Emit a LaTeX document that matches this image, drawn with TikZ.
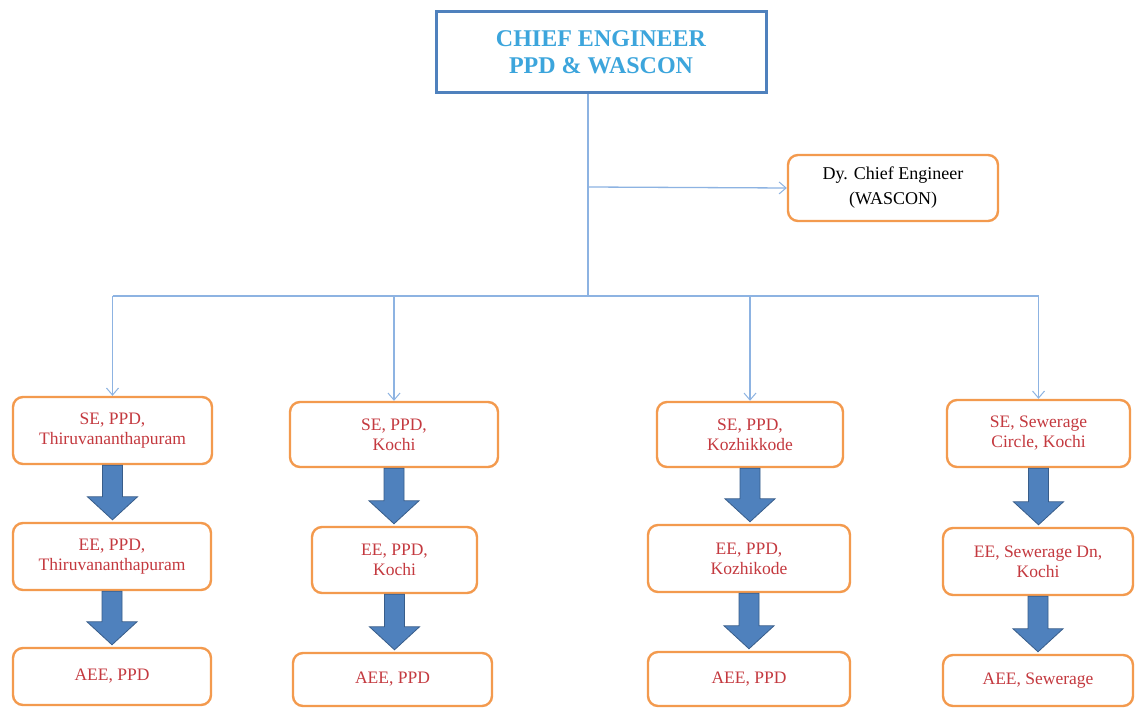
\documentclass[tikz,border=0pt]{standalone}
\usepackage{fontspec}
\setmainfont{Liberation Serif}
\usetikzlibrary{arrows.meta,calc}
\definecolor{obord}{HTML}{F39A4E}
\definecolor{otext}{HTML}{C4393F}
\definecolor{ttext}{HTML}{3CA5DC}
\definecolor{tbord}{HTML}{4F81BD}
\definecolor{conncol}{HTML}{8DB3E2}
\definecolor{afill}{HTML}{4F81BD}
\definecolor{aedge}{HTML}{385D8A}
\newcommand\blkarrow[2]{%
  \path[draw=aedge, fill=afill, line width=0.8pt] let \p1=(#1.south), \p2=(#2.north) in
    (\x1-10pt,\y1) -- (\x1-10pt,\y2+25pt) -- (\x1-25pt,\y2+25pt) -- (\x1,\y2+2pt)
    -- (\x1+25pt,\y2+25pt) -- (\x1+10pt,\y2+25pt) -- (\x1+10pt,\y1) -- cycle;}
\begin{document}
\begin{tikzpicture}[x=1pt,y=-1pt,
  obox/.style={draw=obord, line width=2.4pt, rounded corners=10pt, fill=white,
    inner sep=0pt, align=center, text=otext,
    font=\fontsize{17.5}{20}\selectfont},
  conn/.style={draw=conncol, line width=1.3pt},
  tip/.style={-{Straight Barb[length=7pt,width=12pt,line width=1pt]}}]
\useasboundingbox (0,0) rectangle (1135,708);
\fill[white] (0,0) rectangle (1135,708);

% top box
\node[draw=tbord, line width=3pt, inner sep=0pt, minimum width=330pt, minimum height=81pt,
  align=center, text=ttext, font=\bfseries\fontsize{24}{27}\selectfont]
  (ce) at (601,52.5) {CHIEF ENGINEER\\PPD \& WASCON};

% deputy
\node[obox, text=black, font=\fontsize{18}{25}\selectfont, minimum width=210pt, minimum height=66pt]
  (dy) at (893,188) {Dy. Chief Engineer\\(WASCON)};

% column 1
\node[obox, minimum width=199pt, minimum height=67pt] (se1) at (112.5,430.5) {SE, PPD,\\Thiruvananthapuram};
\node[obox, minimum width=198pt, minimum height=67pt] (ee1) at (112,556.5) {EE, PPD,\\Thiruvananthapuram};
\node[obox, minimum width=198pt, minimum height=57pt] (ae1) at (112,676.5) {AEE, PPD};
% column 2
\node[obox, minimum width=208pt, minimum height=65pt] (se2) at (394,434.5) {SE, PPD,\\Kochi};
\node[obox, minimum width=165pt, minimum height=66pt] (ee2) at (394.5,560) {EE, PPD,\\Kochi};
\node[obox, minimum width=199pt, minimum height=53pt] (ae2) at (392.5,679.5) {AEE, PPD};
% column 3
\node[obox, minimum width=186pt, minimum height=65pt] (se3) at (750,434.5) {SE, PPD,\\Kozhikkode};
\node[obox, minimum width=202pt, minimum height=67pt] (ee3) at (749,558.5) {EE, PPD,\\Kozhikode};
\node[obox, minimum width=202pt, minimum height=54pt] (ae3) at (749,679) {AEE, PPD};
% column 4
\node[obox, minimum width=183pt, minimum height=67pt] (se4) at (1038.5,433.5) {SE, Sewerage\\Circle, Kochi};
\node[obox, minimum width=190pt, minimum height=67pt] (ee4) at (1038,561.5) {EE, Sewerage Dn,\\Kochi};
\node[obox, minimum width=190pt, minimum height=51pt] (ae4) at (1038,680.5) {AEE, Sewerage};

% connectors
\coordinate (junc) at (588,187);
\coordinate (hub) at (588,296);
\draw[conn] (ce.south -| hub) -- (hub);
\draw[conn, tip] (junc) -- (dy.west);
\draw[conn] (se1.north |- hub) -- (se4.north |- hub);
\foreach \i in {1,2,3,4} {\draw[conn, tip] (se\i.north |- hub) -- (se\i.north);}

% block arrows
\blkarrow{se1}{ee1}\blkarrow{ee1}{ae1}
\blkarrow{se2}{ee2}\blkarrow{ee2}{ae2}
\blkarrow{se3}{ee3}\blkarrow{ee3}{ae3}
\blkarrow{se4}{ee4}\blkarrow{ee4}{ae4}
\end{tikzpicture}
\end{document}
